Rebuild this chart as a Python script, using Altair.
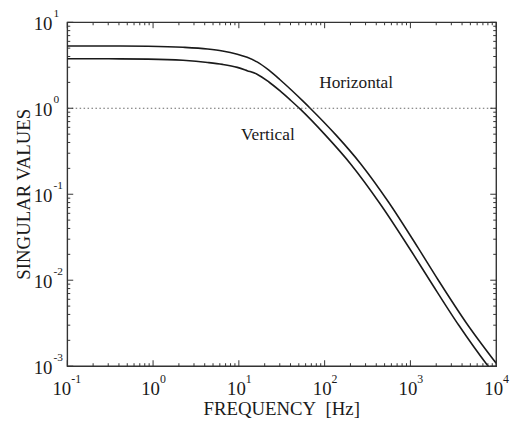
import altair as alt
import pandas as pd

# ---- data ----
h_freq = [0.1, 0.305, 0.88, 2.23, 4.32, 6.44, 9.59, 12.5, 16.3, 22.4, 30.0, 41.2, 55.2, 68.3,
          136, 264, 555, 1230, 2091, 4511, 10000]
h_sv = [5.30, 5.30, 5.26, 5.12, 4.89, 4.64, 4.25, 3.91, 3.46, 2.77, 2.16, 1.62, 1.226, 0.995,
        0.487, 0.2254, 0.0813, 0.02376, 0.01019, 0.00316, 0.00108]
v_freq = [0.1, 0.305, 0.88, 2.23, 4.32, 6.44, 9.59, 12.5, 16.3, 22.4, 30.0, 40.1, 52.4,
          104, 203, 449, 1021, 1736, 3650, 7670, 10000]
v_sv = [3.76, 3.76, 3.73, 3.61, 3.41, 3.24, 2.99, 2.74, 2.49, 2.02, 1.60, 1.239, 0.969,
        0.477, 0.2224, 0.0761, 0.02189, 0.00948, 0.00301, 0.001066, 0.00076]

ref_level = [1.0]

label_text = ["Horizontal", "Vertical"]
label_freq = [233, 21.8]
label_sv = [1.99, 0.49]

x_title = "FREQUENCY\u00a0 [Hz]"
y_title = "SINGULAR VALUES"

x_domain = [0.1, 10000]
y_domain = [0.001, 10]
x_major = [0.1, 1, 10, 100, 1000, 10000]
x_exp = ["-1", "0", "1", "2", "3", "4"]
y_major = [0.001, 0.01, 0.1, 1, 10]
y_exp = ["-3", "-2", "-1", "0", "1"]
x_minor = [m * 10.0 ** k for k in range(-1, 4) for m in range(2, 10)]
y_minor = [m * 10.0 ** k for k in range(-3, 1) for m in range(2, 10)]

# ---- tables ----
curves = pd.concat([
    pd.DataFrame({"freq": h_freq, "sv": h_sv, "series": "Horizontal"}),
    pd.DataFrame({"freq": v_freq, "sv": v_sv, "series": "Vertical"}),
])
labels = pd.DataFrame({"freq": label_freq, "sv": label_sv, "text": label_text})
xlab = pd.DataFrame({"v": x_major, "base": ["10"] * len(x_major), "exp": x_exp})
ylab = pd.DataFrame({"v": y_major, "base": ["10"] * len(y_major), "exp": y_exp})

W, H = 434, 348
FONT = "Liberation Serif"
INK = "#1a1a1a"
FRAME = "#333333"
MAJ, MIN = 6, 3  # tick lengths in px

xs = alt.Scale(type="log", domain=x_domain, nice=False)
ys = alt.Scale(type="log", domain=y_domain, nice=False)
px_per_dec_x = W / 5.0
px_per_dec_y = H / 4.0

lines = alt.Chart(curves).mark_line(
    color=INK, strokeWidth=1.6, interpolate="monotone", clip=True
).encode(
    x=alt.X("freq:Q", scale=xs, axis=None),
    y=alt.Y("sv:Q", scale=ys, axis=None),
    detail="series:N",
)

ref = alt.Chart(pd.DataFrame({"sv": ref_level})).mark_rule(
    color="#666666", strokeWidth=1, strokeDash=[1.5, 2.5]
).encode(y=alt.Y("sv:Q", scale=ys, axis=None))

text = alt.Chart(labels).mark_text(font=FONT, fontSize=17.5, color=INK).encode(
    x=alt.X("freq:Q", scale=xs, axis=None),
    y=alt.Y("sv:Q", scale=ys, axis=None),
    text="text:N",
)


def xticks(vals, length):
    f = 10 ** (length / px_per_dec_y)
    d = pd.DataFrame({"v": vals})
    out = []
    for y0, y1 in ((y_domain[0], y_domain[0] * f), (y_domain[1], y_domain[1] / f)):
        out.append(alt.Chart(d).mark_rule(color=FRAME, strokeWidth=1).encode(
            x=alt.X("v:Q", scale=xs, axis=None),
            y=alt.Y(datum=y0, scale=ys, axis=None),
            y2=alt.Y2(datum=y1),
        ))
    return out


def yticks(vals, length):
    f = 10 ** (length / px_per_dec_x)
    d = pd.DataFrame({"v": vals})
    out = []
    for x0, x1 in ((x_domain[0], x_domain[0] * f), (x_domain[1], x_domain[1] / f)):
        out.append(alt.Chart(d).mark_rule(color=FRAME, strokeWidth=1).encode(
            y=alt.Y("v:Q", scale=ys, axis=None),
            x=alt.X(datum=x0, scale=xs, axis=None),
            x2=alt.X2(datum=x1),
        ))
    return out


tick_layers = xticks(x_major, MAJ) + xticks(x_minor, MIN) + yticks(y_major, MAJ) + yticks(y_minor, MIN)

xbase = alt.Chart(xlab)
x_labels = []
for cond, off in (("datum.v < 1", 4), ("datum.v >= 1", 7)):
    x_labels.append(xbase.transform_filter(cond).mark_text(
        font=FONT, fontSize=19, color=INK, align="right", baseline="middle", dx=off, dy=23
    ).encode(x=alt.X("v:Q", scale=xs, axis=None), y=alt.value(H), text="base:N"))
    x_labels.append(xbase.transform_filter(cond).mark_text(
        font=FONT, fontSize=12, color=INK, align="left", baseline="middle", dx=off, dy=13
    ).encode(x=alt.X("v:Q", scale=xs, axis=None), y=alt.value(H), text="exp:N"))

ybase = alt.Chart(ylab)
y_labels = [
    ybase.mark_text(font=FONT, fontSize=19, color=INK, align="right", baseline="middle",
                    dx=-15, dy=2).encode(
        y=alt.Y("v:Q", scale=ys, axis=None), x=alt.value(0), text="base:N"),
    ybase.mark_text(font=FONT, fontSize=11.5, color=INK, align="left", baseline="middle",
                    dx=-14, dy=-8).encode(
        y=alt.Y("v:Q", scale=ys, axis=None), x=alt.value(0), text="exp:N"),
]

titles = [
    alt.Chart(pd.DataFrame({"t": [x_title]})).mark_text(
        font=FONT, fontSize=19, color=INK, align="center", baseline="middle"
    ).encode(x=alt.value(W / 2), y=alt.value(H + 43), text="t:N"),
    alt.Chart(pd.DataFrame({"t": [y_title]})).mark_text(
        font=FONT, fontSize=19, color=INK, align="center", baseline="middle", angle=270
    ).encode(x=alt.value(-44), y=alt.value(H / 2), text="t:N"),
]

chart = alt.layer(lines, ref, text, *tick_layers, *x_labels, *y_labels, *titles).properties(
    width=W, height=H,
    autosize=alt.AutoSizeParams(type="none"),
    padding={"left": 60, "top": 12, "right": 16, "bottom": 53},
    background="white",
).configure_view(stroke=FRAME, strokeWidth=1.4)

chart.save("out.html", embed_options={"renderer": "svg", "actions": False})
